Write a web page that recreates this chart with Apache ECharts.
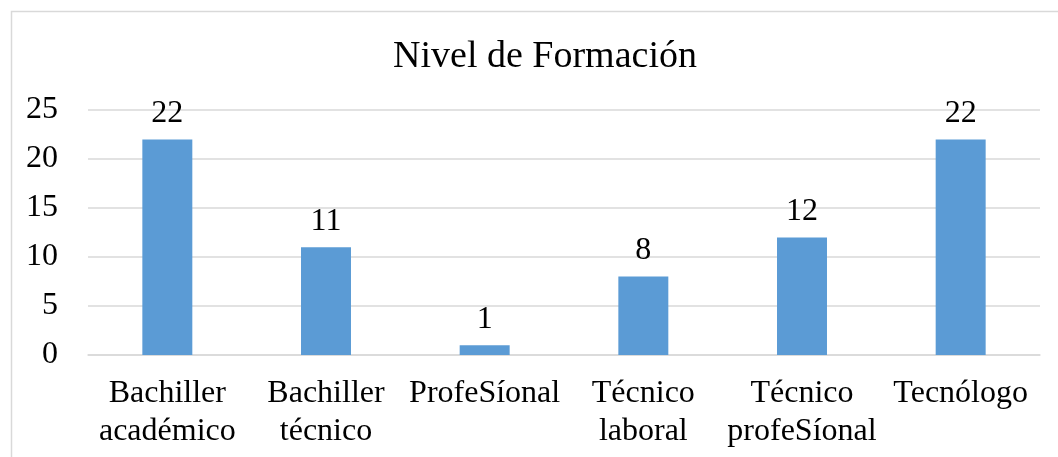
<!DOCTYPE html>
<html>
<head>
<meta charset="utf-8">
<script src="https://cdn.jsdelivr.net/npm/echarts@6/dist/echarts.min.js"></script>
<style>
  html, body { margin: 0; padding: 0; background: #fff; }
  #chart { width: 1058px; height: 457px; }
</style>
</head>
<body>
<div id="chart"></div>
<script>
// datos del gráfico
const categorias = ['Bachiller\nacadémico', 'Bachiller\ntécnico', 'ProfeSíonal', 'Técnico\nlaboral', 'Técnico\nprofeSíonal', 'Tecnólogo'];
const valores = [22, 11, 1, 8, 12, 22];
const ticksY = [0, 5, 10, 15, 20, 25];

const fuente = '"Liberation Serif", "DejaVu Serif", serif';
const chart = echarts.init(document.getElementById('chart'));

chart.setOption({
  animation: false,
  backgroundColor: '#fff',
  graphic: [{
    type: 'rect',
    shape: { x: 11.5, y: 11.5, width: 1100, height: 500 },
    style: { fill: 'none', stroke: '#d9d9d9', lineWidth: 1.5 },
    silent: true
  }],
  title: {
    text: 'Nivel de Formación',
    left: 540,
    textAlign: 'center',
    top: 33,
    textStyle: { fontFamily: fuente, fontSize: 38, fontWeight: 'normal', color: '#000' }
  },
  grid: { left: 88, right: 18, top: 110, bottom: 102 },
  xAxis: {
    type: 'category',
    data: categorias,
    axisTick: { show: false },
    axisLine: { lineStyle: { color: '#d9d9d9', width: 1.5 } },
    axisLabel: {
      interval: 0,
      margin: 20,
      color: '#000',
      fontFamily: fuente,
      fontSize: 32,
      lineHeight: 38
    }
  },
  yAxis: {
    type: 'value',
    min: ticksY[0],
    max: ticksY[ticksY.length - 1],
    interval: 5,
    axisLine: { show: false },
    axisTick: { show: false },
    splitLine: { lineStyle: { color: '#d9d9d9', width: 1.5 } },
    axisLabel: { color: '#000', fontFamily: fuente, fontSize: 32, margin: 30 }
  },
  series: [{
    type: 'bar',
    data: valores,
    barWidth: '31.5%',
    itemStyle: { color: '#5b9bd5' },
    label: {
      show: true,
      position: 'top',
      distance: 10,
      color: '#000',
      fontFamily: fuente,
      fontSize: 32
    }
  }]
});
</script>
</body>
</html>
